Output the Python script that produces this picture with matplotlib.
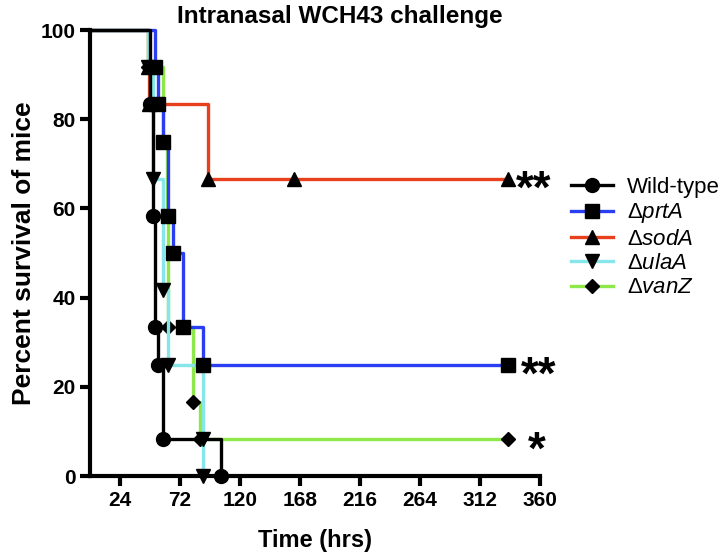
import numpy as np
import matplotlib
matplotlib.use("Agg")
import matplotlib.pyplot as plt

# Intranasal WCH43 challenge - Kaplan-Meier style survival curves

plt.rcParams['font.family'] = ['Liberation Sans', 'DejaVu Sans']
plt.rcParams['mathtext.fontset'] = 'custom'
plt.rcParams['mathtext.rm'] = 'Liberation Sans'
plt.rcParams['mathtext.it'] = 'Liberation Sans:italic'

# times (hrs) and percent survival, one step per event
wt_t = [0, 48, 50, 52, 54, 58, 105]
wt_s = [100, 83.33, 58.33, 33.33, 25, 8.33, 0]

prt_t = [0, 52, 54, 58, 62, 66, 74, 90, 334]
prt_s = [100, 91.67, 83.33, 75, 58.33, 50, 33.33, 25, 25]

sod_t = [0, 46, 47, 94, 163, 334]
sod_s = [100, 91.67, 83.33, 66.67, 66.67, 66.67]

ula_t = [0, 46, 50, 58, 62, 90, 90]
ula_s = [100, 91.67, 66.67, 41.67, 25, 8.33, 0]

van_t = [0, 46, 58, 61.5, 62.5, 82, 88, 334]
van_s = [100, 91.67, 75, 58.33, 33.33, 16.67, 8.33, 8.33]

labels = ['Wild-type', r'$\Delta\mathit{prtA}$', r'$\Delta\mathit{sodA}$',
          r'$\Delta\mathit{ulaA}$', r'$\Delta\mathit{vanZ}$']
stars = {'sod': '**', 'prt': '**', 'van': '*'}

x_ticks = [24, 72, 120, 168, 216, 264, 312, 360]
y_ticks = [0, 20, 40, 60, 80, 100]

fig = plt.figure(figsize=(7.27, 5.57), dpi=100)
ax = fig.add_axes([0.1238, 0.1454, 0.619, 0.8007])

groups = [
    (sod_t, sod_s, '#e8401c', '^', 10, labels[2]),
    (van_t, van_s, '#8ee84a', 'D', 7.5, labels[4]),
    (ula_t, ula_s, '#86e6ea', 'v', 10, labels[3]),
    (prt_t, prt_s, '#2b3ff2', 's', 10, labels[1]),
    (wt_t, wt_s, 'black', 'o', 10, labels[0]),
]

handles = {}
for t, s, c, m, ms, lab in groups:
    h, = ax.step(t, s, where='post', color=c, lw=2.4, marker=m, ms=ms,
                 mfc='black', mec='black', markevery=list(range(1, len(t))),
                 clip_on=False, label=lab)
    handles[lab] = h

ax.annotate(stars['sod'], (sod_t[-1], sod_s[-1]), xytext=(6, -9),
            textcoords='offset points', fontsize=33, fontweight='bold', va='center')
ax.annotate(stars['prt'], (prt_t[-1], prt_s[-1]), xytext=(10, -9),
            textcoords='offset points', fontsize=33, fontweight='bold', va='center')
ax.annotate(stars['van'], (van_t[-1], van_s[-1]), xytext=(15, -9),
            textcoords='offset points', fontsize=33, fontweight='bold', va='center')

ax.set_xlim(0, 360)
ax.set_ylim(0, 100)
ax.set_xticks(x_ticks)
ax.set_yticks(y_ticks)
for sp in ['top', 'right']:
    ax.spines[sp].set_visible(False)
for sp in ['left', 'bottom']:
    ax.spines[sp].set_linewidth(3)
ax.tick_params(width=3, length=7, labelsize=15)
for lab in ax.get_xticklabels() + ax.get_yticklabels():
    lab.set_fontweight('bold')

ax.set_xlabel('Time (hrs)', fontsize=17, fontweight='bold', labelpad=14)
ax.set_ylabel('Percent survival of mice', fontsize=19, fontweight='bold', labelpad=3)
fig.text(340 / 727, 1 - 16 / 557, 'Intranasal WCH43 challenge', ha='center', va='center',
         fontsize=17.5, fontweight='bold')

order = [labels[0], labels[1], labels[2], labels[3], labels[4]]
fig.legend([handles[k] for k in order], order, loc='upper left',
           bbox_to_anchor=(560 / 727, 1 - 166 / 557), frameon=False,
           fontsize=16, handlelength=1.9, handletextpad=0.6, labelspacing=0.15,
           borderpad=0)

fig.savefig('out.png', dpi=100)
